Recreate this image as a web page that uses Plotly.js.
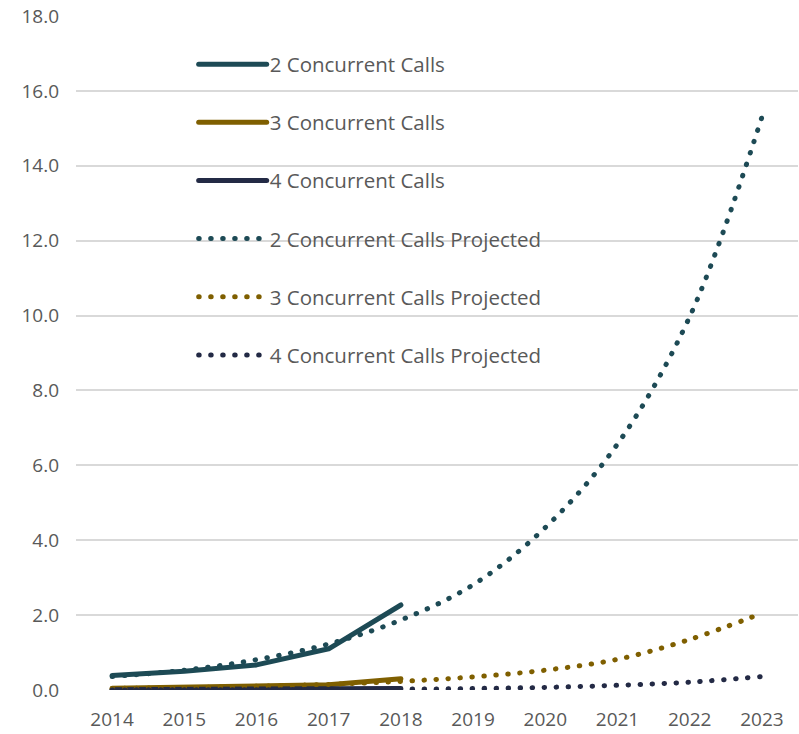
<!DOCTYPE html>
<html>
<head>
<meta charset="utf-8">
<script src="https://cdn.plot.ly/plotly-3.0.1.min.js"></script>
<style>html,body{margin:0;padding:0;background:#fff}#chart{width:799px;height:734px}</style>
</head>
<body>
<div id="chart"></div>
<script>
const yearsActual = [2014, 2015, 2016, 2017, 2018];
const yearsProjected = [2014, 2015, 2016, 2017, 2018, 2019, 2020, 2021, 2022, 2023];

const calls2 = [0.39, 0.50, 0.67, 1.10, 2.27];
const calls3 = [0.05, 0.07, 0.09, 0.14, 0.30];
const calls4 = [0.01, 0.01, 0.02, 0.02, 0.04];

const calls2Proj = [0.36, 0.53, 0.81, 1.23, 1.87, 2.81, 4.34, 6.57, 9.97, 15.3];
const calls3Proj = [0.04, 0.065, 0.10, 0.15, 0.23, 0.35, 0.53, 0.82, 1.35, 2.05];
const calls4Proj = [0.003, 0.005, 0.008, 0.013, 0.022, 0.04, 0.07, 0.125, 0.21, 0.36];

const names = ["2 Concurrent Calls", "3 Concurrent Calls", "4 Concurrent Calls",
  "2 Concurrent Calls Projected", "3 Concurrent Calls Projected", "4 Concurrent Calls Projected"];
const colors = ["#1d4a55", "#7f5f00", "#232a45"];

const solid = [calls2, calls3, calls4];
const proj = [calls2Proj, calls3Proj, calls4Proj];

const traces = [];
solid.forEach((ys, i) => traces.push({
  x: yearsActual, y: ys, type: "scatter", mode: "lines", name: names[i],
  legendgroup: "g" + i,
  line: {color: colors[i], width: 5}
}));
proj.forEach((ys, i) => traces.push({
  x: yearsProjected, y: ys, type: "scatter", mode: "lines", name: names[i + 3],
  legendgroup: "g" + (i + 3),
  line: {color: colors[i], width: 5, dash: "0.5px,11.5px", shape: "spline", smoothing: 1}
}));

const fontFam = "Open Sans, Noto Sans, sans-serif";
const tickFont = {family: fontFam, size: 19, color: "#595959"};

const layout = {
  width: 799, height: 734,
  margin: {l: 76, r: 1, t: 16, b: 44},
  paper_bgcolor: "#fff", plot_bgcolor: "#fff",
  showlegend: true,
  legend: {
    x: 0.163, y: 0.958, xanchor: "left", yanchor: "top",
    traceorder: "grouped", tracegroupgap: 28.5, itemwidth: 66,
    font: {family: fontFam, size: 20.5, color: "#595959"},
    bgcolor: "rgba(0,0,0,0)"
  },
  xaxis: {
    range: [2013.5, 2023.5], tickmode: "linear", tick0: 2014, dtick: 1,
    showgrid: false, zeroline: false, showline: false, ticks: "",
    ticklabelstandoff: 16,
    tickfont: tickFont, fixedrange: true
  },
  yaxis: {
    range: [0, 18], tickmode: "linear", tick0: 0, dtick: 2, tickformat: ".1f",
    showgrid: true, gridcolor: "#d9d9d9", gridwidth: 2,
    zeroline: false, showline: false, ticks: "", ticklabelstandoff: 16,
    tickfont: tickFont, fixedrange: true
  }
};

Plotly.newPlot("chart", traces, layout, {staticPlot: true, displayModeBar: false}).then(() => {
  document.querySelectorAll("path.js-line").forEach(p => {
    p.style.strokeLinecap = "round";
    p.style.strokeLinejoin = "round";
  });
  document.querySelectorAll(".legend .legendlines path").forEach(p => {
    p.setAttribute("d", "M5,0h68");
  });
});
</script>
</body>
</html>
